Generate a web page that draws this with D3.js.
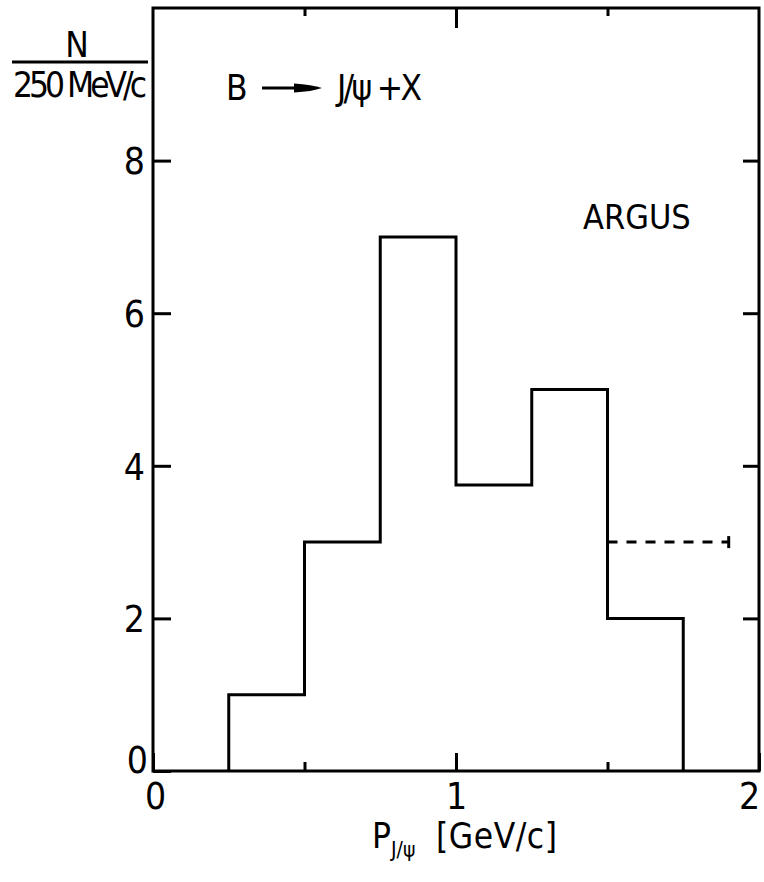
<!DOCTYPE html>
<html>
<head>
<meta charset="utf-8">
<script src="https://cdn.jsdelivr.net/npm/d3@7"></script>
<style>
  body { margin: 0; background: #fff; }
  svg text { font-family: "Liberation Sans Narrow", "DejaVu Sans Condensed", "Roboto Condensed", sans-serif; fill: #000; }
  .axis path, .axis line { stroke: #000; stroke-width: 3; }
  .axis .domain { display: none; }
</style>
</head>
<body>
<svg id="chart" width="764" height="882"></svg>
<script>
// histogram of J/psi momentum, bins of 250 MeV/c
var binEdges = [0.25, 0.5, 0.75, 1.0, 1.25, 1.5, 1.75];
var counts = [1, 3, 7, 3.75, 5, 2];

// dashed level on the right
var dashRange = [1.5, 1.9];
var dashLevel = 3;

var yTicks = [0, 2, 4, 6, 8];
var xTicks = [0, 1, 2];
var xMinor = [0.5, 1.5];

var svg = d3.select("#chart"),
    margin = {top: 8, right: 5, bottom: 111, left: 153},
    width = +svg.attr("width") - margin.left - margin.right,
    height = +svg.attr("height") - margin.top - margin.bottom;

var g = svg.append("g")
    .attr("transform", "translate(" + margin.left + "," + margin.top + ")");

var x = d3.scaleLinear().domain([0, 2]).range([0, width]);
var y = d3.scaleLinear().domain([0, 10]).range([height, 0]);

// left axis, ticks pointing inward
var left = g.append("g")
    .attr("class", "axis")
    .call(d3.axisLeft(y).tickValues(yTicks).tickSizeInner(-18).tickSizeOuter(0).tickPadding(8));
left.selectAll("text").attr("font-size", 37).attr("dy", "0.36em");
left.selectAll(".tick").filter(function(d) { return d === 0; })
    .select("text").attr("y", -12).attr("x", -5);

// right axis
g.append("g")
    .attr("class", "axis")
    .attr("transform", "translate(" + width + ",0)")
    .call(d3.axisRight(y).tickValues(yTicks.slice(1)).tickSizeInner(-16).tickSizeOuter(0).tickFormat(""));

// bottom axis
var bottom = g.append("g")
    .attr("class", "axis")
    .attr("transform", "translate(0," + height + ")")
    .call(d3.axisBottom(x).tickValues(xTicks).tickSizeInner(-18).tickSizeOuter(0).tickPadding(12).tickFormat(d3.format("d")));
bottom.selectAll("text").attr("font-size", 37);
bottom.selectAll(".tick").filter(function(d) { return d === 2; })
    .select("text").attr("x", -10);
bottom.selectAll(".tick").filter(function(d) { return d === 0; })
    .select("text").attr("x", 2);

g.append("g")
    .attr("class", "axis")
    .attr("transform", "translate(0," + height + ")")
    .call(d3.axisBottom(x).tickValues(xMinor).tickSizeInner(-9).tickSizeOuter(0).tickFormat(""));

// top axis
g.append("g")
    .attr("class", "axis")
    .call(d3.axisTop(x).tickValues([1]).tickSizeInner(-20).tickSizeOuter(0).tickFormat(""));
g.append("g")
    .attr("class", "axis")
    .call(d3.axisTop(x).tickValues(xMinor).tickSizeInner(-8).tickSizeOuter(0).tickFormat(""));

// frame
g.append("rect")
    .attr("width", width)
    .attr("height", height)
    .attr("fill", "none")
    .attr("stroke", "#000")
    .attr("stroke-width", 3);

// histogram outline
var pts = [[binEdges[0], 0]];
counts.forEach(function(c, i) { pts.push([binEdges[i], c]); });
pts.push([binEdges[binEdges.length - 1], 0]);

g.append("path")
    .datum(pts)
    .attr("fill", "none")
    .attr("stroke", "#000")
    .attr("stroke-width", 3)
    .attr("d", d3.line()
        .x(function(d) { return x(d[0]); })
        .y(function(d) { return y(d[1]); })
        .curve(d3.curveStepAfter));

// dashed line with end bars
g.append("line")
    .attr("x1", x(dashRange[0])).attr("x2", x(dashRange[1]))
    .attr("y1", y(dashLevel)).attr("y2", y(dashLevel))
    .attr("stroke", "#000")
    .attr("stroke-width", 3)
    .attr("stroke-dasharray", "10,9");
g.selectAll(".cap")
    .data(dashRange)
  .enter().append("line")
    .attr("class", "cap")
    .attr("x1", x).attr("x2", x)
    .attr("y1", y(dashLevel) - 6).attr("y2", y(dashLevel) + 6)
    .attr("stroke", "#000")
    .attr("stroke-width", 3);

// y label as a fraction
svg.append("text")
    .attr("x", 77).attr("y", 57)
    .attr("text-anchor", "middle")
    .attr("font-size", 35)
    .text("N");
svg.append("line")
    .attr("x1", 12).attr("x2", 148)
    .attr("y1", 62).attr("y2", 62)
    .attr("stroke", "#000").attr("stroke-width", 3);
svg.append("text")
    .attr("x", 13).attr("y", 97)
    .attr("font-size", 35)
    .attr("textLength", 134)
    .text("250 MeV/c");

// decay label
svg.append("text")
    .attr("x", 226).attr("y", 100)
    .attr("font-size", 35)
    .text("B");
svg.append("line")
    .attr("x1", 262).attr("x2", 300)
    .attr("y1", 88).attr("y2", 88)
    .attr("stroke", "#000").attr("stroke-width", 3);
svg.append("path")
    .attr("d", "M294,83.5 Q312,84.5 322,88 Q312,91.5 294,92.5 Z")
    .attr("fill", "#000");
svg.append("text")
    .attr("x", 337).attr("y", 100)
    .attr("font-size", 35)
    .attr("textLength", 85)
    .text("J/\u03c8 +X");

svg.append("text")
    .attr("x", 583).attr("y", 229)
    .attr("font-size", 34)
    .text("ARGUS");

// x label
var xl = svg.append("text")
    .attr("x", 372).attr("y", 848)
    .attr("font-size", 35);
xl.append("tspan").text("P");
xl.append("tspan").attr("font-size", 21).attr("dy", 9).text("J/\u03c8");
xl.append("tspan").attr("x", 436).attr("dy", -9).attr("textLength", 121).text("[GeV/c]");
</script>
</body>
</html>
